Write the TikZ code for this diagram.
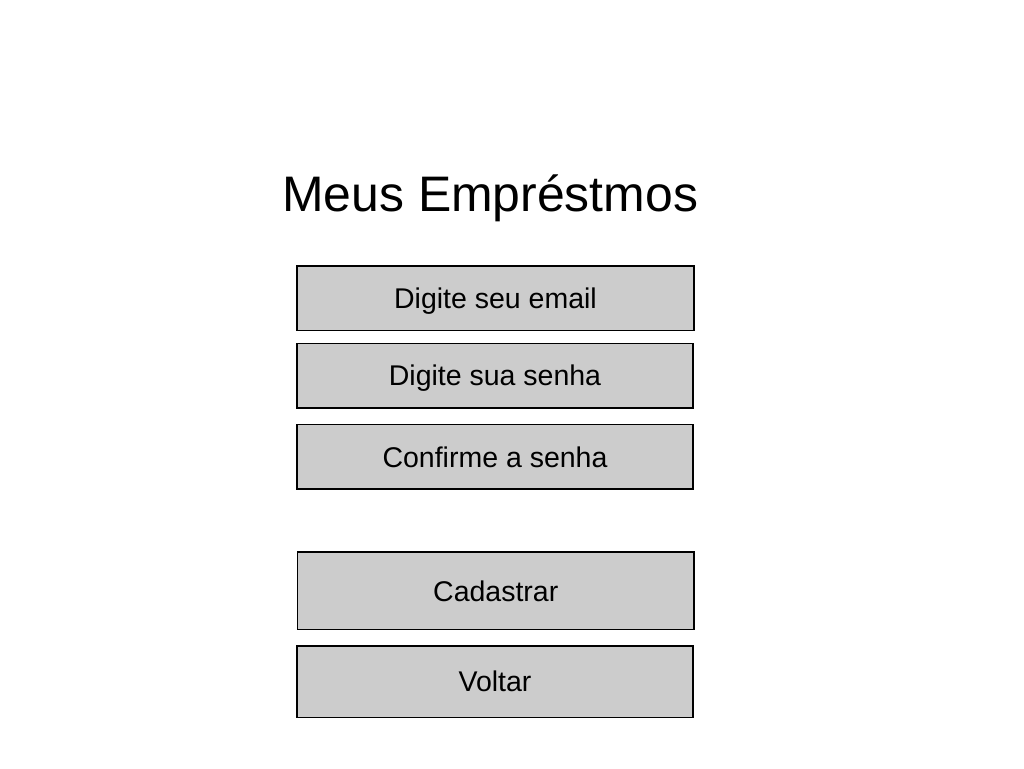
\documentclass[tikz,border=0pt]{standalone}
\usepackage{fontspec}
\setmainfont{Liberation Sans}
\definecolor{boxgray}{HTML}{CCCCCC}
\tikzset{
  field/.style={draw=black, line width=1.8pt, fill=boxgray, inner sep=0pt},
  fieldtext/.style={font=\fontsize{28.5}{34}\selectfont, text=black}
}
\begin{document}
\begin{tikzpicture}[x=1pt,y=-1pt]
\useasboundingbox[fill=white] (0,0) rectangle (1024,768);
\node[font=\fontsize{49.9}{60}\selectfont, anchor=base west, inner sep=0pt] (title) at (282,211) {Meus Empréstmos};
\draw[field] (297,266) rectangle (694,330.5) node[midway, fieldtext, yshift=-3pt] (email) {Digite seu email};
\draw[field] (297,343.5) rectangle (693,407.7) node[midway, fieldtext, yshift=-3pt] (senha) {Digite sua senha};
\draw[field] (297,424.5) rectangle (693,489) node[midway, fieldtext, yshift=-1pt] (confirma) {Confirme a senha};
\draw[field] (297.5,552) rectangle (694,629.5) node[midway, fieldtext, yshift=-1pt] (cadastrar) {Cadastrar};
\draw[field] (297,646) rectangle (693,717.5) node[midway, fieldtext] (voltar) {Voltar};
\end{tikzpicture}
\end{document}
